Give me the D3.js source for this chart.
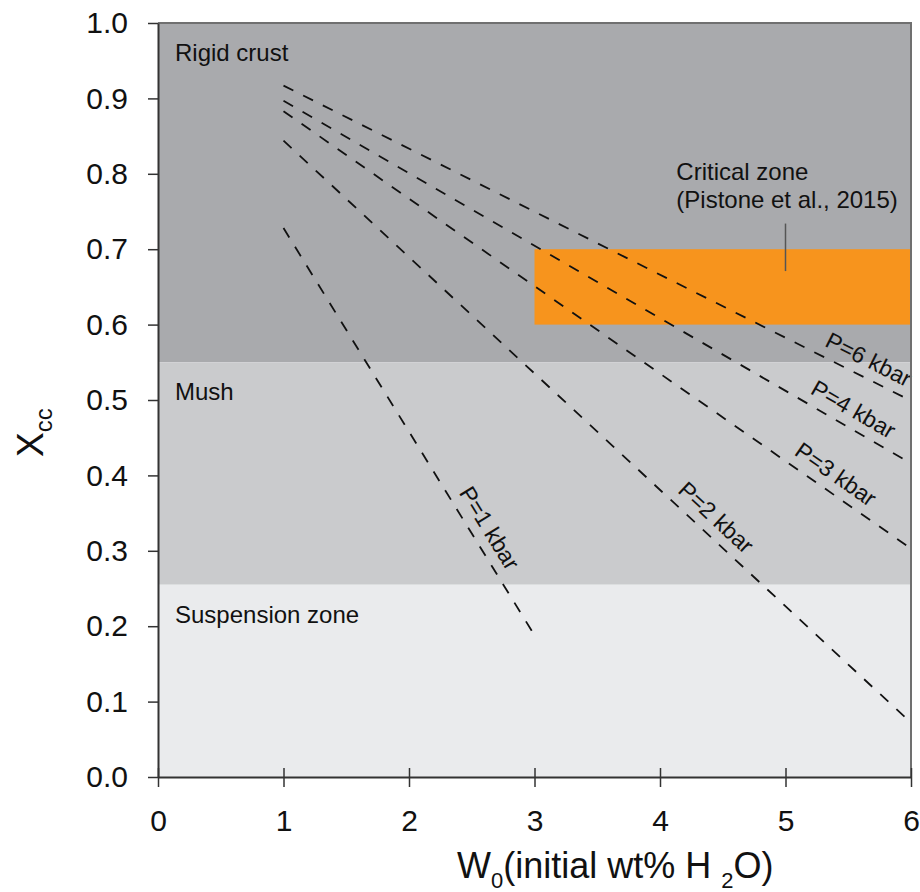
<!DOCTYPE html>
<html>
<head>
<meta charset="utf-8">
<script src="https://cdn.jsdelivr.net/npm/d3@7"></script>
<style>
  body { margin: 0; background: #fff; }
  svg text { font-family: Arial, "Liberation Sans", sans-serif; fill: #111; }
</style>
</head>
<body>
<svg id="chart"></svg>
<script>
// zones of crystal content
const zoneNames = ["Rigid crust", "Mush", "Suspension zone"];
const zoneLow = [0.55, 0.255, 0.0];
const zoneHigh = [1.0, 0.55, 0.255];
const zoneColors = ["#a9aaad", "#cacbcd", "#eaebed"];

// critical zone (Pistone et al., 2015)
const critW = [3, 6];
const critX = [0.6, 0.7];

// isobars, straight segments between two end points
const pLabels = ["P=1 kbar", "P=2 kbar", "P=3 kbar", "P=4 kbar", "P=6 kbar"];
const startW = [1, 1, 1, 1, 1];
const endW = [3, 6, 6, 6, 6];
const startX = [0.728, 0.844, 0.883, 0.897, 0.917];
const endX = [0.188, 0.072, 0.303, 0.416, 0.499];
const labelW = [2.52, 4.35, 5.32, 5.47, 5.6]; // where along the line the label sits

const xTicks = [0, 1, 2, 3, 4, 5, 6];
const yTicks = [0, 0.1, 0.2, 0.3, 0.4, 0.5, 0.6, 0.7, 0.8, 0.9, 1.0];

const width = 920, height = 892;
const margin = { top: 23, right: 9, bottom: 115, left: 158 };
const w = width - margin.left - margin.right;
const h = height - margin.top - margin.bottom;

const svg = d3.select("#chart")
    .attr("width", width)
    .attr("height", height);

const g = svg.append("g")
    .attr("transform", `translate(${margin.left},${margin.top})`);

const x = d3.scaleLinear().domain([0, 6]).range([0, w]);
const y = d3.scaleLinear().domain([0, 1]).range([h, 0]);

// background zones
g.selectAll("rect.zone")
    .data(zoneNames)
    .join("rect")
    .attr("class", "zone")
    .attr("x", 0)
    .attr("width", w)
    .attr("y", (d, i) => y(zoneHigh[i]))
    .attr("height", (d, i) => y(zoneLow[i]) - y(zoneHigh[i]))
    .attr("fill", (d, i) => zoneColors[i]);

g.selectAll("text.zone")
    .data(zoneNames)
    .join("text")
    .attr("class", "zone")
    .attr("x", 17)
    .attr("y", (d, i) => y(zoneHigh[i]) + 38)
    .style("font-size", "24px")
    .text(d => d);

// orange critical zone
g.append("rect")
    .attr("x", x(critW[0]))
    .attr("width", x(critW[1]) - x(critW[0]))
    .attr("y", y(critX[1]))
    .attr("height", y(critX[0]) - y(critX[1]))
    .attr("fill", "#f7941d");

g.append("line")
    .attr("x1", x(5)).attr("x2", x(5))
    .attr("y1", y(0.734)).attr("y2", y(0.671))
    .attr("stroke", "#555")
    .attr("stroke-width", 1.5);

const crit = g.append("text")
    .attr("x", x(4.13))
    .attr("y", y(critX[1]) - 69)
    .style("font-size", "24px");
crit.append("tspan").text("Critical zone");
crit.append("tspan").attr("x", x(4.13)).attr("dy", 28).text("(Pistone et al., 2015)");

// dashed isobars
g.selectAll("line.iso")
    .data(pLabels)
    .join("line")
    .attr("class", "iso")
    .attr("x1", (d, i) => x(startW[i]))
    .attr("y1", (d, i) => y(startX[i]))
    .attr("x2", (d, i) => x(endW[i]))
    .attr("y2", (d, i) => y(endX[i]))
    .attr("stroke", "#111")
    .attr("stroke-width", 1.8)
    .attr("stroke-dasharray", "11,11");

g.selectAll("text.iso")
    .data(pLabels)
    .join("text")
    .attr("class", "iso")
    .attr("transform", (d, i) => {
        const t = (labelW[i] - startW[i]) / (endW[i] - startW[i]);
        const v = startX[i] + t * (endX[i] - startX[i]);
        const dx = x(endW[i]) - x(startW[i]);
        const dy = y(endX[i]) - y(startX[i]);
        const ang = Math.atan2(dy, dx) * 180 / Math.PI;
        return `translate(${x(labelW[i])},${y(v)}) rotate(${ang})`;
    })
    .attr("y", -10)
    .attr("text-anchor", "middle")
    .style("font-size", "23px")
    .text(d => d);

// frame on top and right
g.append("path")
    .attr("d", `M0,0H${w}V${h}`)
    .attr("fill", "none")
    .attr("stroke", "#707070")
    .attr("stroke-width", 2);

// axes
const yAxis = g.append("g")
    .call(d3.axisLeft(y).tickValues(yTicks).tickFormat(d3.format(".1f"))
        .tickSize(10).tickSizeOuter(0).tickPadding(20));

const xAxis = g.append("g")
    .attr("transform", `translate(0,${h})`)
    .call(d3.axisBottom(x).tickValues(xTicks).tickFormat(d3.format("d"))
        .tickSize(10).tickSizeOuter(0).tickPadding(23));
xAxis.selectAll(".tick line").attr("y1", -9).attr("y2", 10);

[xAxis, yAxis].forEach(a => {
    a.select(".domain").attr("stroke", "#333").attr("stroke-width", 2);
    a.selectAll(".tick line").attr("stroke", "#333").attr("stroke-width", 1.5);
    a.selectAll(".tick text")
        .style("font-size", "30px")
        .style("font-family", "Arial, 'Liberation Sans', sans-serif")
        .attr("fill", "#111");
});

// axis titles
const xt = svg.append("text")
    .attr("x", 457)
    .attr("y", 878)
    .style("font-size", "36px");
xt.append("tspan").text("W");
xt.append("tspan").attr("dy", 10).style("font-size", "22px").text("0");
xt.append("tspan").attr("dy", -10).text("(initial wt% H ");
xt.append("tspan").attr("dy", 10).style("font-size", "22px").text("2");
xt.append("tspan").attr("dy", -10).text("O)");

const yt = svg.append("text")
    .attr("transform", "translate(43,457) rotate(-90)")
    .style("font-size", "37px");
yt.append("tspan").text("X");
yt.append("tspan").attr("dy", 9).style("font-size", "24px").text("cc");
</script>
</body>
</html>
